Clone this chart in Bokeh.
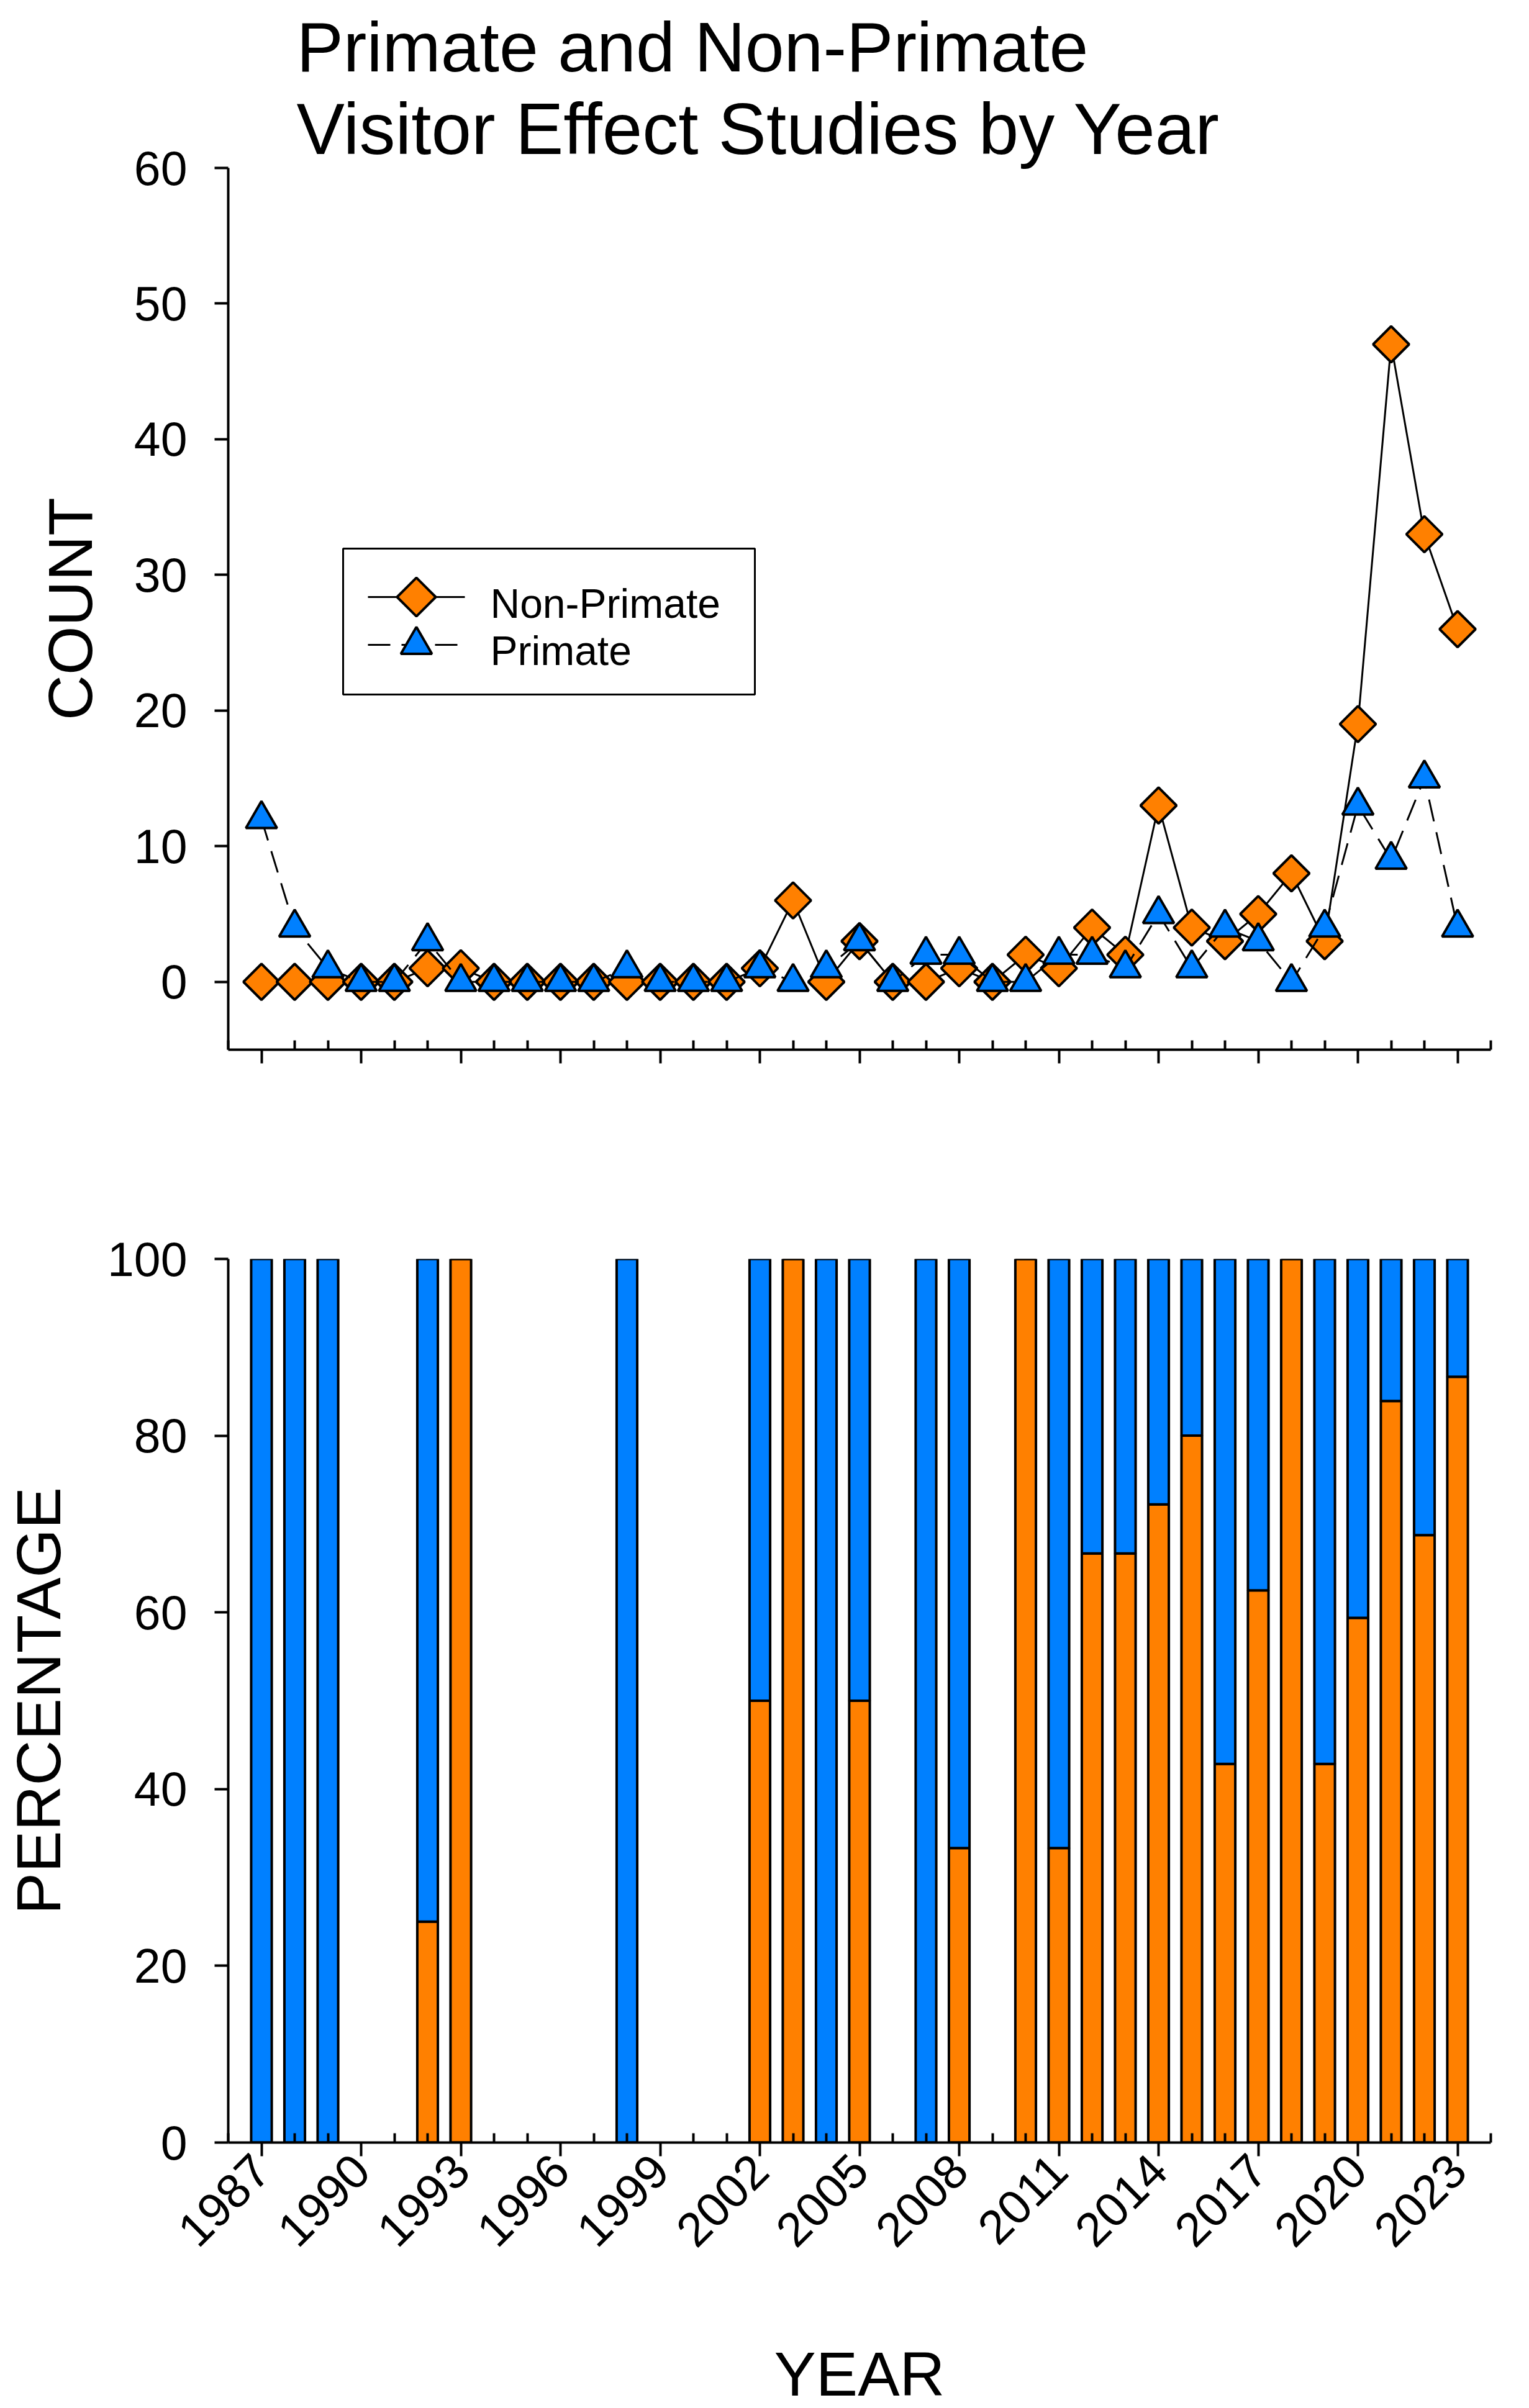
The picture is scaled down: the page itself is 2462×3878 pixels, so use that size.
import math
from bokeh.plotting import figure
from bokeh.layouts import column
from bokeh.models import Range1d, FixedTicker, Title
from bokeh.core.properties import value
from bokeh.embed import file_html
from bokeh.resources import INLINE

# ---------------- data ----------------
years = list(range(1987, 2024))
non_primate = [0, 0, 0, 0, 0, 1, 1, 0, 0, 0, 0, 0, 0, 0, 0, 1, 6, 0, 3, 0, 0, 1, 0,
               2, 1, 4, 2, 13, 4, 3, 5, 8, 3, 19, 47, 33, 26]
primate = [12, 4, 1, 0, 0, 3, 0, 0, 0, 0, 0, 1, 0, 0, 0, 1, 0, 1, 3, 0, 2, 2, 0,
           0, 2, 2, 1, 5, 1, 4, 3, 0, 4, 13, 9, 15, 4]
series_names = ["Non-Primate", "Primate"]
year_ticks = list(range(1987, 2024, 3))
count_ticks = [0, 10, 20, 30, 40, 50, 60]
pct_ticks = [0, 20, 40, 60, 80, 100]
title_lines = ["Primate and Non-Primate", "Visitor Effect Studies by Year"]

# percentages (years with studies only)
bar_years, pct_np = [], []
for y, a, b in zip(years, non_primate, primate):
    if a + b > 0:
        bar_years.append(y)
        pct_np.append(100.0 * a / (a + b))

# ---------------- style ----------------
ORANGE = "#FF8000"
BLUE = "#0080FF"
FONT = "Liberation Sans"
minor_years = [y for y in range(1986, 2025) if y not in year_ticks]

FRAME_W = 2033


def style_axes(p):
    for ax in (p.xaxis[0], p.yaxis[0]):
        ax.axis_line_color = "black"
        ax.axis_line_width = 4
        ax.major_tick_line_color = "black"
        ax.major_tick_line_width = 4
        ax.minor_tick_line_color = "black"
        ax.minor_tick_line_width = 4
        ax.major_tick_out = 22
        ax.major_tick_in = 0
        ax.minor_tick_out = 0
        ax.minor_tick_in = 15
        ax.major_label_text_font = FONT
        ax.major_label_text_font_size = "77px"
        ax.major_label_text_color = "black"
        ax.axis_label_text_font = FONT
        ax.axis_label_text_font_size = "101px"
        ax.axis_label_text_font_style = "normal"
        ax.axis_label_text_color = "black"
    p.yaxis[0].major_label_standoff = 44
    p.xgrid.visible = False
    p.ygrid.visible = False
    p.outline_line_color = None
    p.background_fill_color = "white"
    p.border_fill_color = "white"


# ---------------- top: counts ----------------
top = figure(frame_width=FRAME_W, frame_height=1420,
             x_range=Range1d(1986, 2024), y_range=Range1d(-5, 60),
             min_border_left=367, min_border_right=46, min_border_top=270,
             min_border_bottom=70, output_backend="svg", toolbar_location=None)
style_axes(top)
top.xaxis[0].ticker = FixedTicker(ticks=year_ticks, minor_ticks=minor_years)
top.xaxis[0].major_label_overrides = {t: "" for t in year_ticks}
top.yaxis[0].ticker = FixedTicker(ticks=count_ticks)
top.yaxis[0].axis_label = "COUNT"
top.yaxis[0].axis_label_standoff = 44

top.line(years, non_primate, line_color="black", line_width=3)
top.scatter(years, non_primate, marker="square", angle=math.pi / 4, size=41,
            fill_color=ORANGE, line_color="black", line_width=4)
top.line(years, primate, line_color="black", line_width=3, line_dash="36 18")
top.scatter(years, primate, marker="triangle", size=50,
            fill_color=BLUE, line_color="black", line_width=4)

# legend drawn in frame pixel units
top.extra_x_ranges = {"px": Range1d(0, FRAME_W)}
top.extra_y_ranges = {"px": Range1d(0, 1420)}
LEG = dict(x_range_name="px", y_range_name="px")
top.quad(left=[185], right=[848], bottom=[572], top=[807], fill_color="white",
         line_color="black", line_width=3, **LEG)
top.line([225, 381], [729, 729], line_color="black", line_width=3, **LEG)
top.line([225, 375], [652, 652], line_color="black", line_width=3,
         line_dash="36 18", **LEG)
top.scatter([303], [729], marker="square", angle=math.pi / 4, size=44,
            fill_color=ORANGE, line_color="black", line_width=4, **LEG)
top.scatter([303], [652], marker="triangle", size=50,
            fill_color=BLUE, line_color="black", line_width=4, **LEG)
top.text(x=[422, 422], y=[719, 643], text=series_names,
         text_font=value(FONT), text_font_size="66px", text_color="black",
         text_baseline="alphabetic", text_align="left", **LEG)

# two-line title (first added sits nearest the frame)
top.add_layout(Title(text=title_lines[1], align="left", offset=110, standoff=-4,
                     text_font=FONT, text_font_size="116px", text_font_style="normal",
                     text_color="black"), "above")
top.add_layout(Title(text=title_lines[0], align="left", offset=110, standoff=8,
                     text_font=FONT, text_font_size="113px", text_font_style="normal",
                     text_color="black"), "above")

# ---------------- bottom: percentages ----------------
bot = figure(frame_width=FRAME_W, frame_height=1423,
             x_range=Range1d(1986, 2024), y_range=Range1d(0, 100),
             min_border_left=367, min_border_right=46, min_border_top=267,
             min_border_bottom=400, output_backend="svg", toolbar_location=None)
style_axes(bot)
bot.xaxis[0].ticker = FixedTicker(ticks=year_ticks, minor_ticks=minor_years)
bot.xaxis[0].major_label_orientation = math.pi / 4
bot.xaxis[0].major_label_standoff = 10
bot.xaxis[0].axis_label = "YEAR"
bot.xaxis[0].axis_label_standoff = 122
bot.yaxis[0].ticker = FixedTicker(ticks=pct_ticks)
bot.yaxis[0].axis_label = "PERCENTAGE"
bot.yaxis[0].axis_label_standoff = 52

bot.vbar(x=bar_years, width=0.62, bottom=0, top=pct_np, fill_color=ORANGE,
         line_color="black", line_width=4)
bot.vbar(x=bar_years, width=0.62, bottom=pct_np, top=100, fill_color=BLUE,
         line_color="black", line_width=4)

layout = column(top, bot)
open("out.html", "w").write(file_html(layout, INLINE))
